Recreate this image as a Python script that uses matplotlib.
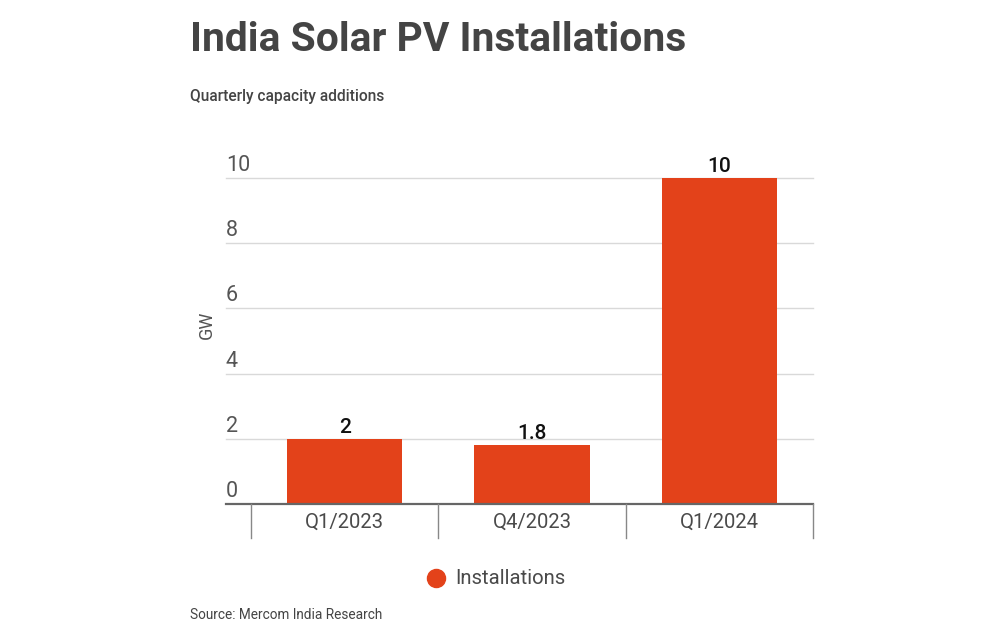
import matplotlib.pyplot as plt
from matplotlib.lines import Line2D

# data
quarters = ['Q1/2023', 'Q4/2023', 'Q1/2024']
installs_gw = [2, 1.8, 10]
value_labels = ['2', '1.8', '10']
y_ticks = [0, 2, 4, 6, 8, 10]

bar_color = '#E3421A'
grey = '#4a4a4a'
plt.rcParams['font.family'] = ['Roboto', 'DejaVu Sans']

W, H = 1000, 640
fig = plt.figure(figsize=(10, 6.4), dpi=100)

# axes in pixel positions of the reference
x0, x1 = 251, 813
y_bot, y_top = 504, 178
ax = fig.add_axes([x0 / W, 1 - y_bot / H, (x1 - x0) / W, (y_bot - y_top) / H])

xs = list(range(len(quarters)))
ax.bar(xs, installs_gw, width=0.614, color=bar_color, zorder=3)
ax.set_xlim(-0.5, len(quarters) - 0.5)
ax.set_ylim(0, 10)

for s in ax.spines.values():
    s.set_visible(False)
ax.set_xticks([])
ax.set_yticks([])

# gridlines extending left under the tick labels
gl_left = (226 - x0) / (x1 - x0)
for t in y_ticks:
    if t == 0:
        ax.axhline(t, xmin=gl_left, xmax=1, color='#666666', lw=1.6, clip_on=False, zorder=4)
    else:
        ax.axhline(t, xmin=gl_left, xmax=1, color='#d9d9d9', lw=1, clip_on=False, zorder=1)
    ax.annotate(str(t), xy=(gl_left, t), xycoords=('axes fraction', 'data'),
                xytext=(0, 7), textcoords='offset pixels', ha='left', va='baseline',
                fontsize=15.5, color='#555555')

# category separators below the axis
n = len(quarters)
for i in range(n + 1):
    sx = (x0 + i * (x1 - x0) / n) / W
    fig.add_artist(Line2D([sx, sx], [1 - y_bot / H, 1 - 538 / H],
                          transform=fig.transFigure, color='#888888', lw=1))

for x, q in zip(xs, quarters):
    ax.annotate(q, xy=(x, 0), xycoords='data', xytext=(0, -18), textcoords='offset pixels',
                ha='center', va='center', fontsize=14.6, color=grey)

# value labels
for x, v, lab in zip(xs, installs_gw, value_labels):
    ax.annotate(lab, xy=(x, v), xytext=(0, 6), textcoords='offset pixels',
                ha='center', va='baseline', fontsize=15, color='#111111', fontweight='medium')

fig.text(207 / W, 1 - 325 / H, 'GW', rotation=90, ha='center', va='center',
         fontsize=13, color='#555555')

# title and subtitle
fig.text(190 / W, 1 - 40 / H, 'India Solar PV Installations', ha='left', va='center',
         fontsize=29.3, fontweight='bold', color='#444444')
fig.text(190 / W, 1 - 96 / H, 'Quarterly capacity additions', ha='left', va='center',
         fontsize=11.2, fontweight='medium', color='#444444')

# legend
fig.add_artist(Line2D([436 / W], [1 - 578 / H], marker='o', markersize=13,
                      color=bar_color, transform=fig.transFigure))
fig.text(455 / W, 1 - 578 / H, 'Installations', ha='left', va='center',
         fontsize=14.6, color=grey)

fig.text(190 / W, 1 - 615 / H, 'Source: Mercom India Research', ha='left', va='center',
         fontsize=9.8, color='#444444')

fig.savefig('out.png', dpi=100, facecolor='white')
